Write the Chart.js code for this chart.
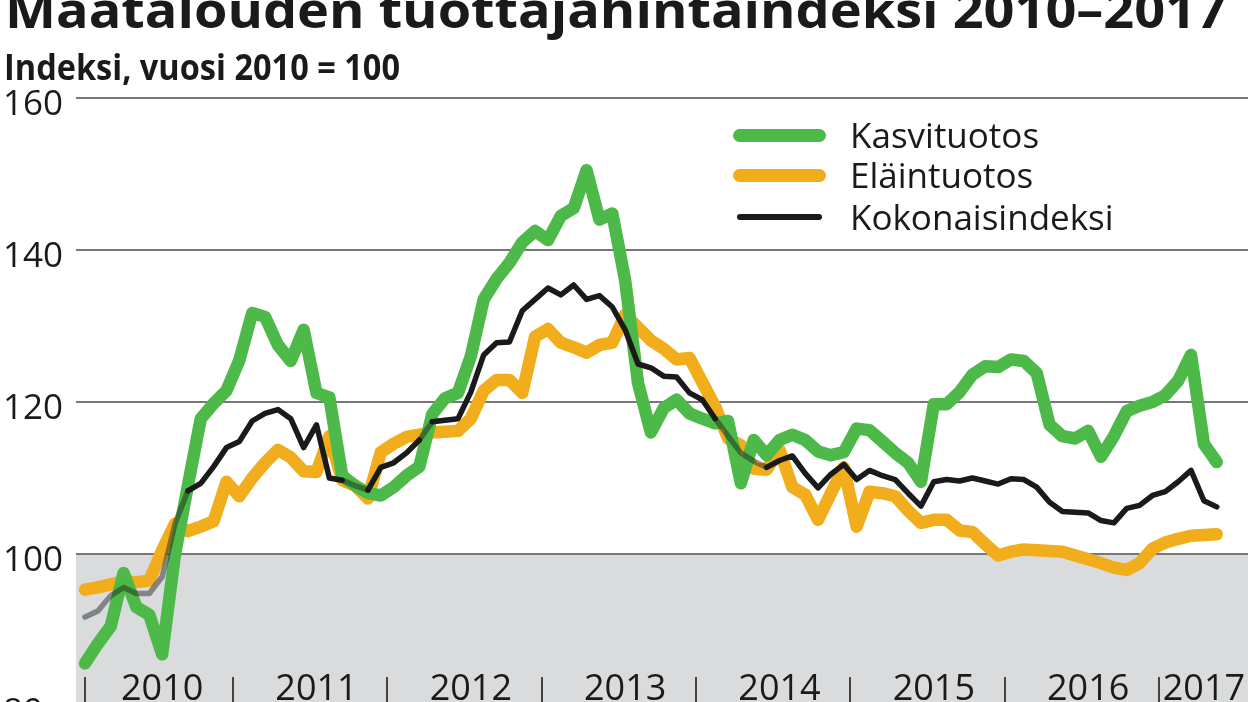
<!DOCTYPE html>
<html lang="fi">
<head>
<meta charset="utf-8">
<title>Maatalouden tuottajahintaindeksi 2010–2017</title>
<script src="https://cdn.jsdelivr.net/npm/chart.js@4.4.1/dist/chart.umd.min.js"></script>
<style>
  html, body { margin: 0; padding: 0; background: #fff; overflow: hidden; }
  #wrap { position: relative; width: 1248px; height: 702px; overflow: hidden;
          font-family: 'Open Sans', sans-serif; color: #1a1a1a; }
  #chart { position: absolute; left: 0; top: 0; }
  .txt { position: absolute; white-space: nowrap; line-height: 1; transform-origin: 0 0; }
  #title { font-weight: 700; font-size: 50px; left: 5px; top: -16px; }
  #subtitle { font-weight: 700; font-size: 36px; left: 4px; top: 49px; }
  .legLine { position: absolute; }
  .legText { position: absolute; font-size: 35px; line-height: 1; white-space: nowrap; left: 850px; }
</style>
</head>
<body>
<div id="wrap">
  <canvas id="chart" width="1248" height="740"></canvas>
  <div id="title" class="txt">Maatalouden tuottajahintaindeksi 2010–2017</div>
  <div id="subtitle" class="txt">Indeksi, vuosi 2010 = 100</div>

  <div class="legLine" style="left:733px;top:129px;width:93px;height:13px;border-radius:7px;background:#4cb948"></div>
  <div class="legText" style="top:117px">Kasvituotos</div>
  <div class="legLine" style="left:733px;top:169px;width:93px;height:13px;border-radius:7px;background:#f2ad1d"></div>
  <div class="legText" style="top:157px">Eläintuotos</div>
  <div class="legLine" style="left:737px;top:214px;width:85px;height:6px;border-radius:3px;background:#1a1a1a"></div>
  <div class="legText" style="top:199px">Kokonaisindeksi</div>
</div>

<script>
// monthly index, Jan 2010 .. May 2017 (2010 = 100)
const years = ['2010', '2011', '2012', '2013', '2014', '2015', '2016', '2017'];
const yearLabelPos = [6, 18, 30, 42, 54, 66, 78, 87];        // month index where the year label sits
const yearTickPos = [0, 11.5, 23.5, 35.5, 47.5, 59.5, 71.5, 83.5]; // year separators
const yTicks = [80, 100, 120, 140, 160];
const baseValue = 100;

const kasvituotos = [
  85.6, 88.2, 90.5, 97.5, 93.0, 92.0, 86.8, 100.0, 109.0, 117.8,
  119.8, 121.5, 125.5, 131.7, 131.2, 127.5, 125.4, 129.5, 121.2, 120.6,
  110.3, 109.0, 108.0, 107.7, 108.8, 110.3, 111.5, 118.4, 120.5, 121.2,
  126.0, 133.5, 136.2, 138.3, 141.0, 142.5, 141.3, 144.5, 145.5, 150.5,
  144.0, 144.8, 136.0, 122.5, 116.0, 119.2, 120.3, 118.5, 117.8, 117.2,
  117.5, 109.3, 115.0, 113.0, 115.0, 115.7, 115.0, 113.5, 113.0, 113.4,
  116.5, 116.3, 114.8, 113.3, 112.0, 109.5, 119.7, 119.7, 121.3, 123.6,
  124.7, 124.6, 125.6, 125.4, 123.8, 117.0, 115.5, 115.2, 116.2, 112.8,
  115.5, 118.8, 119.5, 120.0, 120.9, 122.8, 126.2, 114.5, 112.1
];
const elaintuotos = [
  95.3, 95.6, 96.0, 96.4, 96.3, 96.5, 100.5, 104.0, 103.0, 103.6,
  104.3, 109.5, 107.6, 110.0, 112.0, 113.7, 112.7, 110.9, 110.8, 115.5,
  109.7, 109.0, 107.3, 113.4, 114.5, 115.4, 115.7, 116.0, 116.1, 116.2,
  117.8, 121.5, 122.9, 122.9, 121.2, 128.6, 129.6, 127.8, 127.2, 126.5,
  127.5, 127.8, 131.5, 129.8, 128.1, 127.0, 125.6, 125.8, 122.6, 119.4,
  115.2, 114.3, 111.2, 111.1, 113.7, 108.8, 107.8, 104.5, 108.0, 111.4,
  103.6, 108.2, 108.0, 107.6, 105.7, 104.1, 104.5, 104.5, 103.1, 102.9,
  101.3, 99.8, 100.3, 100.6, 100.5, 100.4, 100.3, 99.8, 99.3, 98.8,
  98.2, 97.9, 98.8, 100.7, 101.5, 102.0, 102.4, 102.5, 102.6
];
const kokonaisindeksi = [
  91.7, 92.5, 94.5, 95.6, 94.8, 94.8, 97.0, 104.0, 108.3, 109.3,
  111.5, 114.0, 114.8, 117.5, 118.5, 119.0, 117.8, 114.0, 117.0, 110.0,
  109.7, 109.0, 108.4, 111.4, 112.0, 113.3, 115.0, 117.4, 117.6, 117.8,
  121.3, 126.2, 127.8, 127.9, 132.0, 133.5, 135.0, 134.1, 135.4, 133.5,
  134.0, 132.5, 129.5, 125.0, 124.5, 123.4, 123.3, 121.2, 120.3, 117.8,
  115.5, 113.3, 112.2, 111.4, 112.3, 112.9, 110.6, 108.7, 110.5, 111.8,
  109.8, 111.0, 110.3, 109.8, 108.0, 106.3, 109.5, 109.8, 109.6, 110.0,
  109.6, 109.2, 109.9, 109.8, 108.8, 106.8, 105.6, 105.5, 105.4, 104.4,
  104.1, 106.0, 106.4, 107.7, 108.2, 109.5, 111.0, 107.0, 106.2
];

function points(arr) {
  return arr.map((v, i) => ({ x: i, y: v }));
}

// the total line looks washed out where it runs on another line or in the grey zone
function isDim(i) {
  const v = kokonaisindeksi[i];
  return v < baseValue ||
    Math.abs(v - elaintuotos[i]) < 1.2 ||
    Math.abs(v - kasvituotos[i]) < 1.2;
}

const greyZone = {
  id: 'greyZone',
  beforeDraw(chart) {
    const { ctx, chartArea, scales } = chart;
    const top = scales.y.getPixelForValue(baseValue);
    ctx.save();
    ctx.fillStyle = '#d9dbdd';
    ctx.fillRect(chartArea.left, top, chartArea.right - chartArea.left, chart.height - top);
    ctx.restore();
  }
};

const lineStyle = { pointRadius: 0, tension: 0, fill: false, borderJoinStyle: 'round', borderCapStyle: 'round' };
const xMin = -0.7, xMax = 90.43, axisAt = 83.82;

new Chart(document.getElementById('chart'), {
  type: 'line',
  data: {
    datasets: [
      Object.assign({
        label: 'Kokonaisindeksi', data: points(kokonaisindeksi),
        borderColor: '#1a1a1a', borderWidth: 5.5, order: 0,
        segment: {
          borderColor: c => (isDim(c.p0DataIndex) && isDim(c.p1DataIndex)) ? 'rgba(25,25,25,0.45)' : undefined
        }
      }, lineStyle),
      Object.assign({
        label: 'Kasvituotos', data: points(kasvituotos),
        borderColor: '#4cb948', borderWidth: 12.5, order: 1
      }, lineStyle),
      Object.assign({
        label: 'Eläintuotos', data: points(elaintuotos),
        borderColor: '#f2ad1d', borderWidth: 12.5, order: 2
      }, lineStyle)
    ]
  },
  options: {
    responsive: false,
    animation: false,
    layout: { padding: { left: 3, top: 98, right: 0, bottom: 34 } },
    plugins: { legend: { display: false }, tooltip: { enabled: false } },
    scales: {
      x: {
        type: 'linear', min: xMin, max: xMax, position: { y: axisAt },
        grid: { display: false }, border: { display: false },
        afterBuildTicks: s => { s.ticks = yearLabelPos.map(v => ({ value: v })); },
        ticks: {
          autoSkip: false, maxRotation: 0, padding: -13, color: '#1a1a1a',
          font: { family: 'Open Sans', size: 36, lineHeight: 1 },
          callback: (v, i) => years[i]
        }
      },
      xt: {
        type: 'linear', axis: 'x', min: xMin, max: xMax, position: { y: axisAt },
        border: { display: false },
        grid: { drawOnChartArea: false, drawTicks: true, tickLength: 30, color: '#444', lineWidth: 2 },
        afterBuildTicks: s => { s.ticks = yearTickPos.map(v => ({ value: v })); },
        ticks: { autoSkip: false, maxRotation: 0, callback: () => '' }
      },
      y: {
        min: 80, max: 160, position: 'left',
        afterFit: s => { s.width = 73; },
        afterBuildTicks: s => { s.ticks = yTicks.map(v => ({ value: v })); },
        grid: { color: '#777', lineWidth: 2, drawTicks: false },
        border: { display: false },
        ticks: {
          crossAlign: 'far', padding: 0, labelOffset: 7, color: '#1a1a1a',
          font: { family: 'Open Sans', size: 35 }
        }
      }
    }
  },
  plugins: [greyZone]
});

// squeeze headings to the width they take in the original
function fitWidth(id, target) {
  const el = document.getElementById(id);
  const w = el.getBoundingClientRect().width;
  el.style.transform = 'scaleX(' + (target / w) + ')';
}
fitWidth('title', 1222);
fitWidth('subtitle', 396);
</script>
</body>
</html>
